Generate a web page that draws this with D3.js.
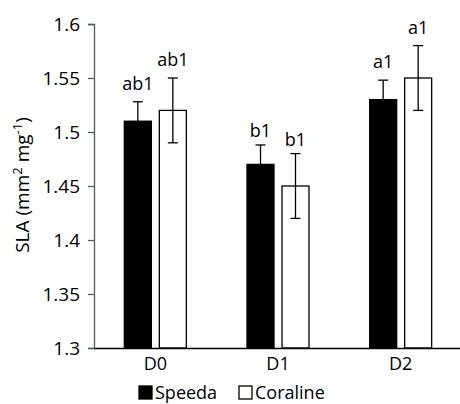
<!DOCTYPE html>
<html>
<head>
<meta charset="utf-8">
<script src="https://cdn.jsdelivr.net/npm/d3@7"></script>
<style>
body { margin: 0; background: #fff; }
text { font-family: "Open Sans", sans-serif; fill: #000; }
</style>
</head>
<body>
<div id="chart"></div>
<script>
// data
var categories = ["D0", "D1", "D2"];
var seriesNames = ["Speeda", "Coraline"];
var speeda = [1.51, 1.47, 1.53];
var speedaErr = [0.018, 0.018, 0.018];
var coraline = [1.52, 1.45, 1.55];
var coralineErr = [0.03, 0.03, 0.03];
var speedaLetters = ["ab1", "b1", "a1"];
var coralineLetters = ["ab1", "b1", "a1"];
var yTicks = [1.3, 1.35, 1.4, 1.45, 1.5, 1.55, 1.6];

var width = 460, height = 404;
var margin = {top: 24, right: 0, bottom: 56, left: 94};

var svg = d3.select("#chart").append("svg")
	.attr("width", width).attr("height", height);

var x = d3.scaleBand()
	.domain(categories)
	.range([margin.left, 462]);

var y = d3.scaleLinear()
	.domain([1.3, 1.6])
	.range([height - margin.bottom, margin.top]);

var barW = 27, gap = 8;

var rows = categories.map(function(c, i){
	return [
		{cat: c, v: speeda[i], e: speedaErr[i], lab: speedaLetters[i], fill: "#000", off: -gap / 2 - barW},
		{cat: c, v: coraline[i], e: coralineErr[i], lab: coralineLetters[i], fill: "#fff", off: gap / 2}
	];
});
var bars = [].concat.apply([], rows);

// y axis
var yAxis = svg.append("g")
	.attr("transform", "translate(" + margin.left + ",0)")
	.call(d3.axisLeft(y).tickValues(yTicks).tickSize(6).tickPadding(8)
		.tickFormat(function(d){ return d3.format("")(+d.toFixed(2)); }));
yAxis.selectAll("path, line").attr("stroke", "#595959").attr("stroke-width", 1.3);
yAxis.selectAll("text").style("font-size", "19px").attr("fill", "#000");

// bars
svg.selectAll("rect.bar")
	.data(bars)
	.enter()
	.append("rect")
	.attr("class", "bar")
	.attr("x", function(d){ return x(d.cat) + x.bandwidth() / 2 + d.off; })
	.attr("y", function(d){ return y(d.v); })
	.attr("width", barW)
	.attr("height", function(d){ return y(1.3) - y(d.v); })
	.attr("fill", function(d){ return d.fill; })
	.attr("stroke", "#000")
	.attr("stroke-width", 1.3);

// error bars
var eb = svg.selectAll("g.err")
	.data(bars)
	.enter()
	.append("g")
	.attr("class", "err")
	.attr("transform", function(d){ return "translate(" + (x(d.cat) + x.bandwidth() / 2 + d.off + barW / 2) + ",0)"; });
eb.append("line")
	.attr("y1", function(d){ return y(d.v + d.e); })
	.attr("y2", function(d){ return y(d.v - d.e); })
	.attr("stroke", "#000").attr("stroke-width", 1.3);
eb.append("line")
	.attr("x1", -5).attr("x2", 5)
	.attr("y1", function(d){ return y(d.v + d.e); })
	.attr("y2", function(d){ return y(d.v + d.e); })
	.attr("stroke", "#000").attr("stroke-width", 1.3);
eb.append("line")
	.attr("x1", -5).attr("x2", 5)
	.attr("y1", function(d){ return y(d.v - d.e); })
	.attr("y2", function(d){ return y(d.v - d.e); })
	.attr("stroke", "#000").attr("stroke-width", 1.3);

// letters above bars
svg.selectAll("text.lab")
	.data(bars)
	.enter()
	.append("text")
	.attr("class", "lab")
	.attr("x", function(d){ return x(d.cat) + x.bandwidth() / 2 + d.off + barW / 2; })
	.attr("y", function(d){ return y(d.v + d.e) - (d.cat === "D1" ? 8 : 12); })
	.attr("text-anchor", "middle")
	.style("font-size", "18px")
	.text(function(d){ return d.lab; });

// x axis
var xAxis = svg.append("g")
	.attr("transform", "translate(0," + y(1.3) + ")")
	.call(d3.axisBottom(x).tickSize(0).tickPadding(9));
xAxis.select("path").attr("stroke", "#000").attr("stroke-width", 1.3);
xAxis.selectAll("text").style("font-size", "18px").attr("fill", "#000");

// y title
svg.append("text")
	.attr("transform", "translate(29,185) rotate(-90)")
	.attr("text-anchor", "middle")
	.style("font-size", "19px")
	.html('SLA (mm<tspan dy="-7" font-size="13px">2</tspan><tspan dy="7"> mg</tspan><tspan dy="-7" font-size="13px">-1</tspan><tspan dy="7">)</tspan>');

// legend
var leg = svg.selectAll("g.leg")
	.data(seriesNames)
	.enter()
	.append("g")
	.attr("class", "leg")
	.attr("transform", function(d, i){ return "translate(" + (i === 0 ? 139 : 239) + ",386)"; });
leg.append("rect")
	.attr("width", 13).attr("height", 13)
	.attr("fill", function(d, i){ return i === 0 ? "#000" : "#fff"; })
	.attr("stroke", "#000").attr("stroke-width", 1.3);
leg.append("text")
	.attr("x", 16).attr("y", 13)
	.style("font-size", "18px")
	.text(function(d){ return d; });
</script>
</body>
</html>
